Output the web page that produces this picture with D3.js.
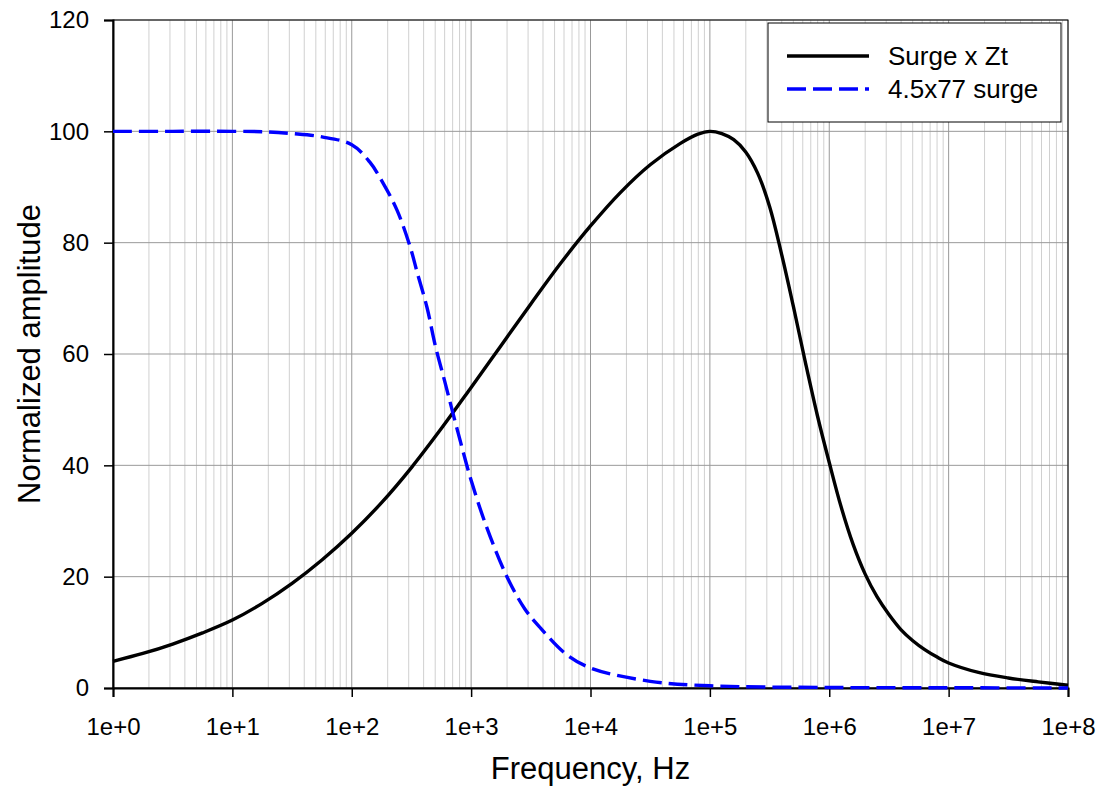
<!DOCTYPE html>
<html lang="en">
<head>
<meta charset="UTF-8">
<title>Normalized amplitude vs frequency</title>
<script src="https://cdnjs.cloudflare.com/ajax/libs/d3/7.8.5/d3.min.js"></script>
<style>
  body { margin: 0; background: #fff; }
  text { font-family: "Liberation Sans", Arial, sans-serif; fill: #000; }
</style>
</head>
<body>
<div id="chart"></div>
<script>
// series, x as log10(frequency)
const surgeLogF = [0,0.25,0.5,0.75,1,1.25,1.5,1.75,2,2.25,2.5,2.75,3,3.25,3.5,3.75,4,4.25,4.5,4.75,4.9,5,5.1,5.2,5.3,5.4,5.5,5.6,5.7,5.8,5.9,6,6.1,6.2,6.3,6.4,6.5,6.6,6.7,6.8,6.9,7,7.25,7.5,7.75,8];
const surgeZt   = [4.8,6.2,7.9,9.9,12.2,15.2,18.8,23,27.8,33.3,39.6,46.6,54,61.5,69,76.3,83,89,94,97.8,99.5,100,99.6,98.5,96.3,92.5,86.5,78,68.5,58.5,49,40.5,32.5,25.8,20.5,16.4,13.2,10.5,8.5,6.9,5.6,4.5,2.8,1.8,1.1,0.5];

const pulseLogF = [0,0.5,1,1.3,1.5,1.75,2,2.15,2.26,2.38,2.49,2.55,2.63,2.7,2.78,2.84,2.92,3,3.13,3.3,3.45,3.58,3.8,4,4.5,5,6,7,8];
const pulse     = [100,100,100,99.9,99.6,99,97.6,94.5,90.8,85.8,79.2,74.5,68.4,61.5,55,50,43.5,37.3,28.9,20,14.2,10.8,6,3.6,1.2,0.4,0.1,0.05,0];

const xTickLabels = ["1e+0","1e+1","1e+2","1e+3","1e+4","1e+5","1e+6","1e+7","1e+8"];
const yTicks = [0,20,40,60,80,100,120];
const seriesNames = ["Surge x Zt", "4.5x77 surge"];

const W = 1099, H = 786;
const m = {left: 113, right: 31, top: 20, bottom: 98};
const iw = W - m.left - m.right, ih = H - m.top - m.bottom;

const svg = d3.select('#chart').append('svg')
  .attr('width', W).attr('height', H);
const g = svg.append('g').attr('transform', `translate(${m.left},${m.top})`);

const x = d3.scaleLog().domain([1, 1e8]).range([0, iw]);
const y = d3.scaleLinear().domain([0, 120]).range([ih, 0]);

// minor grid
const minor = [];
for (let d = 0; d < 8; d++) for (let k = 2; k <= 9; k++) minor.push(k * Math.pow(10, d));
g.append('g').selectAll('line').data(minor).join('line')
  .attr('x1', d => x(d)).attr('x2', d => x(d))
  .attr('y1', 0).attr('y2', ih)
  .attr('stroke', '#d0d0d0').attr('stroke-width', 1);

// major grid
const majors = d3.range(0, 9).map(i => Math.pow(10, i));
g.append('g').selectAll('line').data(majors).join('line')
  .attr('x1', d => x(d)).attr('x2', d => x(d))
  .attr('y1', 0).attr('y2', ih)
  .attr('stroke', '#999').attr('stroke-width', 1);
g.append('g').selectAll('line').data(yTicks).join('line')
  .attr('x1', 0).attr('x2', iw)
  .attr('y1', d => y(d)).attr('y2', d => y(d))
  .attr('stroke', '#999').attr('stroke-width', 1);

// frame
g.append('rect').attr('width', iw).attr('height', ih)
  .attr('fill', 'none').attr('stroke', '#000').attr('stroke-width', 1);

// axes
const xAxis = g.append('g').attr('transform', `translate(0,${ih})`)
  .call(d3.axisBottom(x).tickValues(majors).tickFormat((d, i) => xTickLabels[i]).tickSize(9).tickPadding(21));
const yAxis = g.append('g')
  .call(d3.axisLeft(y).tickValues(yTicks).tickSize(9).tickPadding(15));
[xAxis, yAxis].forEach(a => {
  a.select('.domain').attr('stroke', '#000').attr('stroke-width', 2);
  a.selectAll('.tick line').attr('stroke', '#000').attr('stroke-width', 1.5);
  a.selectAll('.tick text').attr('font-size', 24).attr('font-family', '"Liberation Sans", Arial, sans-serif').attr('fill', '#000');
});

// curves
const line = d3.line().curve(d3.curveCatmullRom.alpha(0.5))
  .x(d => x(Math.pow(10, d[0]))).y(d => y(d[1]));
g.append('path').datum(surgeLogF.map((f, i) => [f, surgeZt[i]]))
  .attr('d', line).attr('fill', 'none')
  .attr('stroke', '#000').attr('stroke-width', 3.4);
g.append('path').datum(pulseLogF.map((f, i) => [f, pulse[i]]))
  .attr('d', line).attr('fill', 'none')
  .attr('stroke', '#0000ff').attr('stroke-width', 3.4)
  .attr('stroke-dasharray', '19,7');

// legend
const lg = svg.append('g').attr('transform', 'translate(768,23)');
lg.append('rect').attr('width', 293).attr('height', 99)
  .attr('fill', '#fff').attr('stroke', '#000').attr('stroke-width', 1);
const styles = [{c: '#000', dash: null}, {c: '#0000ff', dash: '19,7'}];
seriesNames.forEach((name, i) => {
  const yy = 33 + i * 33;
  lg.append('line').attr('x1', 19).attr('x2', 101).attr('y1', yy).attr('y2', yy)
    .attr('stroke', styles[i].c).attr('stroke-width', 3.4)
    .attr('stroke-dasharray', styles[i].dash);
  lg.append('text').attr('x', 120).attr('y', yy + 9).attr('font-size', 26).text(name);
});

// axis titles
svg.append('text').attr('x', m.left + iw / 2).attr('y', 779)
  .attr('text-anchor', 'middle').attr('font-size', 31).text('Frequency, Hz');
svg.append('text').attr('transform', `translate(40,${m.top + ih / 2}) rotate(-90)`)
  .attr('text-anchor', 'middle').attr('font-size', 31).text('Normalized amplitude');
</script>
</body>
</html>
